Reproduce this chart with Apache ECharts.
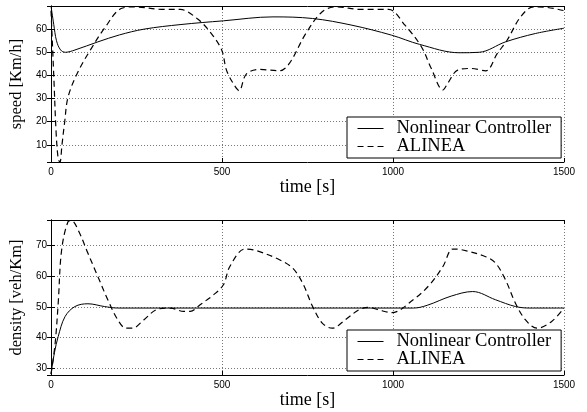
<!DOCTYPE html>
<html>
<head>
<meta charset="utf-8">
<script src="https://cdn.jsdelivr.net/npm/echarts@6/dist/echarts.min.js"></script>
<style>
  html, body { margin: 0; padding: 0; background: #fff; }
  #main { width: 587px; height: 412px; }
</style>
</head>
<body>
<div id="main"></div>
<script>
const seriesNames = ['Nonlinear Controller', 'ALINEA']
const xTicks = [0, 500, 1000, 1500]

// speed [Km/h]
const speedNlT = [0, 8, 16, 28, 42, 70, 137, 200, 272, 380, 504, 649, 765, 880, 996, 1078, 1194, 1252, 1329, 1416, 1500]
const speedNlV = [70, 62, 55, 51, 50, 51, 54.5, 57.5, 60, 62, 63.6, 65.3, 64.6, 61.7, 57.4, 53.4, 49.8, 50, 54.5, 58.1, 60.4]
const speedAlT = [0, 8, 15, 21, 26, 32, 40, 50, 79, 118, 156, 205, 243, 330, 378, 427, 465, 499, 513, 535, 550, 571, 610, 668, 697, 745, 793, 832, 909, 987, 1035, 1083, 1112, 1146, 1160, 1189, 1228, 1271, 1305, 1334, 1373, 1411, 1450, 1500]
const speedAlV = [68, 40, 15, 4, 2.5, 10, 20, 30.8, 41.6, 51.7, 60.3, 68.9, 69.6, 68.5, 68.5, 64.6, 58.8, 51, 42.3, 36, 33.4, 40.6, 42.6, 42, 45.2, 58.1, 67.5, 69.6, 68.5, 68.5, 61.7, 52.4, 43, 33.7, 36.6, 42.3, 43, 42, 49.5, 55.3, 65.3, 69.6, 69.4, 68]

// density [veh/Km]
const densNlT = [0, 10, 21, 41, 70, 108, 156, 195, 1060, 1100, 1170, 1233, 1300, 1358, 1400, 1500]
const densNlV = [28, 35, 40.3, 46.8, 50.1, 51, 50.1, 49.6, 49.6, 50.5, 53.5, 55, 52.3, 50.1, 49.6, 49.6]
const densAlT = [0, 12, 21, 31, 50, 60, 79, 108, 137, 166, 195, 219, 238, 272, 311, 349, 388, 407, 436, 475, 504, 523, 567, 600, 668, 707, 736, 765, 793, 822, 861, 900, 929, 958, 996, 1059, 1107, 1146, 1175, 1204, 1271, 1300, 1329, 1358, 1387, 1421, 1464, 1500]
const densAlV = [28, 38, 51.2, 68.6, 77.9, 78.2, 75.2, 67.5, 59.9, 52.3, 45.8, 43, 43, 45.8, 49.2, 49.6, 48.5, 48.5, 50.7, 53.9, 57.2, 63.2, 68.9, 68.4, 65.4, 62.6, 57.7, 50.1, 44.7, 43, 45.8, 49, 49.8, 49, 48.1, 52.3, 57.2, 63.2, 68.9, 68.6, 66.4, 64.3, 58.8, 51.2, 45.8, 43, 45.2, 49.6]

const speedRange = [2.6, 70]
const densRange = [27.7, 78.4]

const zip = (t, v) => t.map((x, i) => [x, v[i]])

const chart = echarts.init(document.getElementById('main'))

const labelFont = { fontFamily: 'Liberation Sans', fontSize: 10, color: '#000' }
const serif = size => ({ fontFamily: 'Liberation Serif', fontSize: size, color: '#000' })
const dotted = { show: true, lineStyle: { color: '#777', type: [1, 2], width: 1 } }
const frame = { show: true, lineStyle: { color: '#000', width: 1 } }
const tick = { show: true, inside: true, length: 4, lineStyle: { color: '#000' } }

const xAxisFor = (grid, main) => ({
  type: 'value', gridIndex: grid, position: main ? 'bottom' : 'top',
  min: 0, max: 1500, interval: 500,
  axisLine: frame, axisTick: tick,
  splitLine: main ? dotted : { show: false },
  axisLabel: main ? { ...labelFont, margin: 5, formatter: v => xTicks.includes(v) ? String(v) : '' } : { show: false },
  name: main ? 'time [s]' : '', nameLocation: 'middle', nameGap: 16, nameTextStyle: serif(18)
})

const yAxisFor = (grid, main, range, title) => ({
  type: 'value', gridIndex: grid, position: main ? 'left' : 'right',
  min: range[0], max: range[1], splitNumber: 7, minInterval: 10, maxInterval: 10,
  axisLine: frame, axisTick: tick,
  splitLine: main ? { ...dotted, showMinLine: false, showMaxLine: false } : { show: false },
  axisLabel: main ? { ...labelFont, margin: 4, showMinLabel: false, showMaxLabel: false,
    formatter: v => (Math.abs(v % 10) < 1e-6 ? String(v) : '') } : { show: false },
  name: main ? title : '', nameLocation: 'middle', nameGap: 9, nameTextStyle: serif(16.5)
})

const lineSeries = (name, data, x, y, dashed) => ({
  name, type: 'line', data, xAxisIndex: x, yAxisIndex: y,
  symbol: 'none', smooth: 0.35, silent: true, color: '#000',
  lineStyle: { color: '#000', width: dashed ? 1.2 : 1, type: dashed ? [6, 4] : 'solid' }
})

const legendAt = top => ({
  data: seriesNames, left: 347, top, orient: 'vertical',
  itemWidth: 26, itemHeight: 14, itemGap: -1, padding: [2, 10, 2, 10],
  itemStyle: { opacity: 0 }, lineStyle: { width: 1 },
  borderColor: '#000', borderWidth: 1, backgroundColor: '#fff',
  textStyle: { ...serif(18.5), padding: [0, 0, 0, 8] }, selectedMode: false
})

chart.setOption({
  animation: false,
  grid: [
    { left: 46, top: 6, width: 518, height: 156 },
    { left: 46, top: 220, width: 518, height: 155 }
  ],
  xAxis: [xAxisFor(0, true), xAxisFor(0, false), xAxisFor(1, true), xAxisFor(1, false)],
  yAxis: [
    yAxisFor(0, true, speedRange, 'speed [Km/h]'), yAxisFor(0, false, speedRange),
    yAxisFor(1, true, densRange, 'density [veh/Km]'), yAxisFor(1, false, densRange)
  ],
  legend: [legendAt(117), legendAt(330)],
  series: [
    lineSeries(seriesNames[0], zip(speedNlT, speedNlV), 0, 0, false),
    lineSeries(seriesNames[1], zip(speedAlT, speedAlV), 0, 0, true),
    lineSeries(seriesNames[0], zip(densNlT, densNlV), 2, 2, false),
    lineSeries(seriesNames[1], zip(densAlT, densAlV), 2, 2, true)
  ]
})
</script>
</body>
</html>
